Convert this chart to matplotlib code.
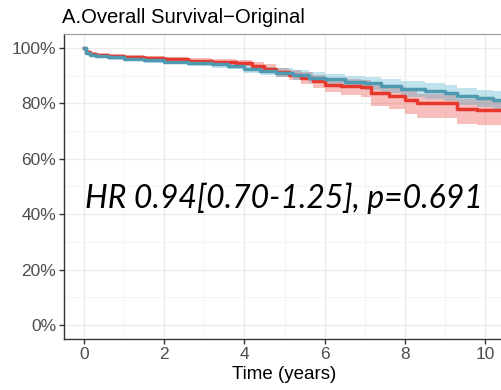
import matplotlib
matplotlib.use("Agg")
import matplotlib.pyplot as plt
from matplotlib.ticker import FixedLocator, FuncFormatter

# Kaplan-Meier estimates (step points, post)
t_red = [0, 0.05, 0.15, 0.3, 0.6, 1.0, 1.5, 2.0, 2.6, 3.2, 3.8, 4.2, 4.5, 4.8,
         5.1, 5.4, 5.7, 6.0, 6.4, 6.9, 7.15, 7.6, 8.0, 8.3, 9.3, 9.8, 10.5]
s_red = [1.000, 0.985, 0.978, 0.974, 0.970, 0.966, 0.962, 0.959, 0.954, 0.950,
         0.946, 0.935, 0.925, 0.912, 0.903, 0.893, 0.880, 0.866, 0.862, 0.858,
         0.836, 0.826, 0.812, 0.800, 0.778, 0.776, 0.776]
lo_red = [1.000, 0.979, 0.971, 0.967, 0.962, 0.958, 0.953, 0.950, 0.944, 0.939,
          0.934, 0.921, 0.909, 0.894, 0.883, 0.870, 0.855, 0.841, 0.830, 0.823,
          0.792, 0.778, 0.762, 0.747, 0.724, 0.720, 0.720]
hi_red = [1.000, 0.991, 0.985, 0.981, 0.977, 0.974, 0.970, 0.968, 0.964, 0.961,
          0.958, 0.948, 0.940, 0.929, 0.921, 0.913, 0.902, 0.889, 0.887, 0.884,
          0.866, 0.857, 0.845, 0.835, 0.816, 0.815, 0.815]

t_blue = [0, 0.05, 0.15, 0.3, 0.6, 1.0, 1.5, 2.0, 2.6, 3.2, 3.6, 4.0, 4.4, 4.8,
          5.2, 5.6, 6.0, 6.5, 7.0, 7.4, 7.9, 8.5, 9.0, 9.3, 9.8, 10.2, 10.5]
s_blue = [1.000, 0.982, 0.974, 0.970, 0.966, 0.960, 0.955, 0.950, 0.945, 0.940,
          0.935, 0.925, 0.917, 0.910, 0.903, 0.893, 0.886, 0.878, 0.872, 0.862,
          0.852, 0.846, 0.838, 0.826, 0.818, 0.812, 0.812]
lo_blue = [1.000, 0.976, 0.967, 0.963, 0.958, 0.951, 0.945, 0.940, 0.934, 0.928,
           0.922, 0.911, 0.902, 0.894, 0.885, 0.874, 0.865, 0.855, 0.848, 0.836,
           0.824, 0.817, 0.808, 0.795, 0.786, 0.779, 0.779]
hi_blue = [1.000, 0.988, 0.981, 0.977, 0.973, 0.968, 0.964, 0.960, 0.956, 0.952,
           0.948, 0.939, 0.932, 0.926, 0.920, 0.912, 0.906, 0.900, 0.895, 0.887,
           0.879, 0.874, 0.867, 0.856, 0.849, 0.844, 0.844]

x_ticks = [0, 2, 4, 6, 8, 10]
y_ticks = [0, 0.2, 0.4, 0.6, 0.8, 1.0]

title = "A.Overall Survival\u2212Original"
hr_text = "HR 0.94[0.70-1.25], p=0.691"

RED = "#E8372C"
BLUE = "#3EA8C8"

plt.rcParams["font.family"] = ["Liberation Sans", "DejaVu Sans"]

fig = plt.figure(figsize=(5.02, 3.90), dpi=100)
W, H = 502, 390
ax = fig.add_axes([64 / W, (H - 338.9) / H, (505 - 64) / W, (338.9 - 34) / H])

ax.fill_between(t_red, lo_red, hi_red, step="post", color=RED, alpha=0.32, lw=0)
ax.fill_between(t_blue, lo_blue, hi_blue, step="post", color=BLUE, alpha=0.32, lw=0)
ax.step(t_red, s_red, where="post", color=RED, lw=2.5)
ax.step(t_blue, s_blue, where="post", color="#4F9AB0", lw=2.5)

ax.set_xlim(-0.5, 10.5)
ax.set_ylim(-0.05, 1.05)
ax.xaxis.set_major_locator(FixedLocator(x_ticks))
ax.yaxis.set_major_locator(FixedLocator(y_ticks))
ax.xaxis.set_minor_locator(FixedLocator([1, 3, 5, 7, 9]))
ax.yaxis.set_minor_locator(FixedLocator([0.1, 0.3, 0.5, 0.7, 0.9]))
ax.yaxis.set_major_formatter(FuncFormatter(lambda v, p: f"{v * 100:.0f}%"))

ax.grid(which="major", color="#EBEBEB", lw=1.0)
ax.grid(which="minor", color="#F3F3F3", lw=0.6)
ax.set_axisbelow(True)

ax.tick_params(which="major", length=3.5, width=1, color="#333333",
               labelcolor="#4D4D4D", labelsize=12.5, pad=2)
ax.tick_params(which="minor", length=0)
for side in ["left", "bottom"]:
    ax.spines[side].set_color("#333333")
    ax.spines[side].set_linewidth(1)
ax.spines["top"].set_color("#999999")
ax.spines["right"].set_visible(False)

ax.set_xlabel("Time (years)", fontsize=13.5, color="black", labelpad=3)

fig.text(62 / W, 1 - 23 / H, title, fontsize=14.6, va="baseline", ha="left")
ax.text(0.02, 0.422, hr_text, fontsize=23, style="italic", family="Lato",
        va="baseline", ha="left", color="black")

fig.savefig("out.png", dpi=100)
